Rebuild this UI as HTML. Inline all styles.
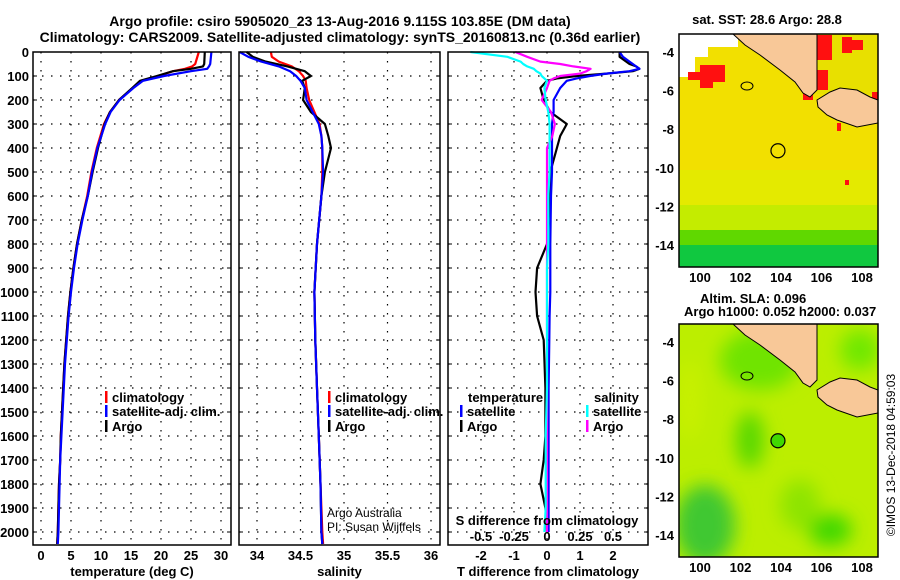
<!DOCTYPE html>
<html><head><meta charset="utf-8">
<style>
body{margin:0;background:#fff;}
svg{display:block;font-family:"Liberation Sans",sans-serif;}
.b{font-weight:bold;font-size:13px;}
.t{font-weight:bold;font-size:14px;}
</style></head>
<body>
<svg id="c" width="900" height="580" viewBox="0 0 900 580">
<defs>
<clipPath id="m1"><rect x="679" y="34" width="199" height="233"/></clipPath>
<filter id="bl"><feGaussianBlur stdDeviation="9"/></filter>
</defs>
<text class="t" x="340" y="26" text-anchor="middle">Argo profile: csiro 5905020_23 13-Aug-2016 9.115S 103.85E (DM data)</text>
<text class="t" x="340" y="42" text-anchor="middle">Climatology: CARS2009. Satellite-adjusted climatology: synTS_20160813.nc (0.36d earlier)</text>
<g id="plots"></g>
<g id="maps"></g>
<text x="895" y="455" font-size="12" text-anchor="middle" transform="rotate(-90 895 455)">©IMOS 13-Dec-2018 04:59:03</text>
</svg>
<script>
// ----- data -----
const depthT=[0,50,60,70,80,100,120,150,200,250,300,400,500,600,700,800,900,1000,1100,1200,1300,1400,1500,1600,1700,1800,1900,2000,2050];
const tempArgo=[27.3,27.2,27.0,25,22,19.3,16.5,15.2,13.0,11.5,10.6,9.5,8.6,7.8,6.8,6.0,5.4,4.9,4.5,4.2,3.9,3.7,3.5,3.3,3.2,3.0,2.9,2.8,2.7];
const tempClim=[26.3,25.7,25.2,24,22,19.5,16.8,15.3,13.0,11.5,10.5,9.3,8.4,7.7,6.8,6.0,5.4,4.9,4.5,4.2,3.9,3.7,3.5,3.3,3.2,3.0,2.9,2.8,2.7];
const tempSat=[28.4,28.2,28.0,27.7,25,20.5,17,15.4,13.1,11.6,10.7,9.4,8.5,7.8,6.9,6.1,5.5,5.0,4.6,4.3,4.0,3.8,3.6,3.4,3.2,3.1,3.0,2.9,2.8];
const depthS=[0,20,40,60,80,100,120,150,200,250,300,350,400,500,600,800,1000,1200,1400,1600,1800,2000,2050];
const salArgo=[33.88,33.95,34.1,34.35,34.55,34.62,34.52,34.55,34.53,34.62,34.78,34.82,34.85,34.78,34.74,34.69,34.66,34.67,34.69,34.71,34.73,34.74,34.75];
const salClim=[34.16,34.17,34.25,34.4,34.48,34.53,34.56,34.57,34.6,34.66,34.72,34.74,34.75,34.75,34.74,34.69,34.66,34.67,34.69,34.71,34.73,34.75,34.76];
const salSat=[33.8,33.9,34.05,34.25,34.38,34.45,34.5,34.55,34.57,34.64,34.71,34.74,34.75,34.76,34.74,34.69,34.66,34.67,34.69,34.71,34.73,34.74,34.75];
const depthD=[0,20,40,50,60,70,80,90,100,110,120,150,200,250,300,350,400,500,600,800,900,1000,1100,1200,1400,1600,1700,1800,1900,2000];
const dTArgo=[2.2,2.2,2.4,2.5,2.7,2.8,2.6,1.8,0.9,0.3,0.0,-0.2,-0.1,0.1,0.6,0.4,0.3,0.1,0.1,0.0,-0.3,-0.35,-0.3,-0.1,-0.05,-0.05,-0.1,-0.2,-0.05,0.0];
const dTSat=[2.2,2.3,2.5,2.6,2.7,2.8,2.5,1.8,1.3,0.9,0.6,0.4,0.2,0.2,0.15,0.15,0.15,0.15,0.12,0.1,0.1,0.1,0.08,0.07,0.05,0.05,0.05,0.05,0.05,0.05];
const dSArgo=[-0.24,-0.15,-0.05,0.1,0.2,0.33,0.3,0.25,0.1,0.05,0.02,0.0,-0.04,0.03,0.06,0.04,0.0,0.0,0.0,0.0,0.0,0.0,0.0,0.0,0.0,0.0,0.0,0.0,0.0,0.0];
const dSSat=[-0.58,-0.3,-0.2,-0.18,-0.15,-0.1,-0.08,-0.05,-0.04,-0.02,0.0,-0.02,-0.01,0.01,0.02,0.02,0.02,0.02,0.01,0.01,0.0,0.0,0.0,0.0,0.0,-0.01,-0.01,-0.01,-0.01,-0.02];
const depthTicks=[0,100,200,300,400,500,600,700,800,900,1000,1100,1200,1300,1400,1500,1600,1700,1800,1900,2000];
const tempTicks=[0,5,10,15,20,25,30];
const salTicks=[34,34.5,35,35.5,36];
const dTTicks=[-2,-1,0,1,2];
const dSTicks=[-0.5,-0.25,0,0.25,0.5];
const dSTickLabels=["-0.5","-0.25","0","0.25","0.5"];
const lonTicks=[100,102,104,106,108];
const latTicks=[-4,-6,-8,-10,-12,-14];

const NS="http://www.w3.org/2000/svg";
function mk(tag,attrs,parent,txt){const e=document.createElementNS(NS,tag);for(const k in attrs)e.setAttribute(k,attrs[k]);if(txt!==undefined)e.textContent=txt;parent.appendChild(e);return e;}
const yD=d=>52+d*0.24;
const TOP=52,BOT=545;
const P=document.getElementById('plots');
const panels=[
 {x0:33,x1:231,f:v=>41+v*6,ticks:tempTicks,name:'temperature-panel',label:'temperature (deg C)'},
 {x0:239,x1:440,f:v=>257+(v-34)*87,ticks:salTicks,name:'salinity-panel',label:'salinity'},
 {x0:448,x1:648,f:v=>547+v*33,ticks:dTTicks,name:'difference-panel',label:'T difference from climatology'}
];
const fS=v=>547+v*132;
panels.forEach((p,i)=>{
 const g=mk('g',{},P);
 
 
 depthTicks.forEach(d=>{if(d>0)mk('line',{x1:p.x0,x2:p.x1,y1:yD(d),y2:yD(d),stroke:'#000','stroke-dasharray':'1.5 7.5','stroke-width':1.2},g);
   mk('line',{x1:p.x0,x2:p.x0+4,y1:yD(d),y2:yD(d),stroke:'#000'},g);mk('line',{x1:p.x1-4,x2:p.x1,y1:yD(d),y2:yD(d),stroke:'#000'},g);});
 p.ticks.forEach(v=>{const x=p.f(v);mk('line',{x1:x,x2:x,y1:TOP,y2:BOT,stroke:'#000','stroke-dasharray':'1.5 7.5','stroke-width':1.2},g);
   const t=mk('text',{x:x,y:560,'text-anchor':'middle',class:'b'},g,String(v));
   
   });
 const xl=mk('text',{x:(p.x0+p.x1)/2,y:576,'text-anchor':'middle',class:'b'},g,p.label);
 
 
});
depthTicks.forEach(d=>{const t=mk('text',{x:29,y:yD(d)+5,'text-anchor':'end',class:'b'},P,String(d));
 
 });
function line(xs,ds,f,col,name,w){const pts=xs.map((v,i)=>f(v).toFixed(1)+','+yD(ds[i]).toFixed(1)).join(' ');
 const l=mk('polyline',{points:pts,fill:'none',stroke:col,'stroke-width':w||2.2,'stroke-linejoin':'round'},P);
 
 }
line(tempClim,depthT,panels[0].f,'#ff0000','temp-climatology-line');
line(tempArgo,depthT,panels[0].f,'#000','temp-argo-line');
line(tempSat,depthT,panels[0].f,'#0000ff','temp-satellite-line');
line(salClim,depthS,panels[1].f,'#ff0000','sal-climatology-line');
line(salArgo,depthS,panels[1].f,'#000','sal-argo-line');
line(salSat,depthS,panels[1].f,'#0000ff','sal-satellite-line');
line(dTArgo,depthD,panels[2].f,'#000','dT-argo-line');
line(dTSat,depthD,panels[2].f,'#0000ff','dT-satellite-line');
line(dSArgo,depthD,fS,'#ff00ff','dS-argo-line');
line(dSSat,depthD,fS,'#00ffff','dS-satellite-line');
dSTicks.forEach((v,i)=>{const t=mk('text',{x:fS(v),y:541,'text-anchor':'middle',class:'b'},P,dSTickLabels[i]);
 
 });
panels.forEach(p=>{const r=mk('rect',{x:p.x0,y:TOP,width:p.x1-p.x0,height:BOT-TOP,fill:'none',stroke:'#000','stroke-width':1.5},P);
 
 });
function leg(x,y,col,txt,anchor){const g=mk('g',{},P);
 
 
 mk('rect',{x:x,y:y-11,width:2.5,height:12,fill:col},g);
 mk('text',{x:x+7,y:y,class:'b'},g,txt);}
leg(105,402,'#ff0000','climatology');leg(105,416,'#0000ff','satellite-adj. clim.');leg(105,431,'#000','Argo');
leg(328,402,'#ff0000','climatology');leg(328,416,'#0000ff','satellite-adj. clim.');leg(328,431,'#000','Argo');
mk('text',{x:468,y:402,class:'b'},P,'temperature');
leg(460,416,'#0000ff','satellite');leg(460,431,'#000','Argo');
mk('text',{x:594,y:402,class:'b'},P,'salinity');
leg(586,416,'#00ffff','satellite');leg(586,431,'#ff00ff','Argo');
mk('text',{x:547,y:525,'text-anchor':'middle',class:'b'},P,'S difference from climatology');
mk('text',{x:327,y:517,'font-size':'12',fill:'#000'},P,'Argo Australia');
mk('text',{x:327,y:531,'font-size':'12',fill:'#000'},P,'PI: Susan Wijffels');

// ----- maps -----
const M=document.getElementById('maps');
const lx=l=>700+(l-100)*20.25, ly=l=>52+(-4-l)*19.3;
const sum="679,34 817,34 817,90 810,97 803,93 795,82 780,70 760,55 745,45 733,34";
const java="817,100 830,92 840,88 857,90 870,97 878,100 878,123 857,127 837,120 827,115 818,107";
function map(off,kind){
 const g=mk('g',{transform:'translate(0,'+off+')'},M);
 
 
 const c=mk('g',{'clip-path':'url(#m1)'},g);
 if(kind==='sst'){
  mk('rect',{x:679,y:34,width:199,height:233,fill:'#f2e000'},c);
  mk('rect',{x:679,y:34,width:16,height:43,fill:'#fff'},c);
  mk('rect',{x:695,y:34,width:13,height:23,fill:'#fff'},c);
  mk('rect',{x:708,y:34,width:30,height:13,fill:'#fff'},c);
  mk('rect',{x:679,y:170,width:199,height:40,fill:'#e4ea00'},c);
  mk('rect',{x:679,y:205,width:199,height:30,fill:'#c4ec00'},c);
  mk('rect',{x:679,y:230,width:199,height:20,fill:'#60d800'},c);
  mk('rect',{x:679,y:245,width:199,height:22,fill:'#10c840'},c);
  mk('rect',{x:817,y:34,width:61,height:60,fill:'#e8e000'},c);
  [[688,700,72,80],[700,713,65,88],[713,725,65,82],[817,832,35,60],[817,828,70,90],[842,852,37,53],[852,863,40,50],[803,813,85,100],[872,878,92,103],[837,841,123,131],[845,849,180,185]].forEach(r=>mk('rect',{x:r[0],y:r[2],width:r[1]-r[0],height:r[3]-r[2],fill:'#ff1010'},c));
 } else {
  mk('rect',{x:679,y:34,width:199,height:233,fill:'#bcee00'},c);
  const gb=mk('g',{filter:'url(#bl)'},c);
  [[705,235,30,40,'#40c830'],[750,150,14,28,'#58d800'],[830,240,22,16,'#40d800'],[760,70,40,30,'#70e400'],[860,60,20,20,'#70e800'],[800,215,20,25,'#8ee400'],[690,110,12,40,'#c8f000']].forEach(e=>mk('ellipse',{cx:e[0],cy:e[1],rx:e[2],ry:e[3],fill:e[4]},gb));
 }
 mk('polygon',{points:sum,fill:'#f8c898',stroke:'#000','stroke-width':1},c);
 mk('polygon',{points:java,fill:'#f8c898',stroke:'#000','stroke-width':1},c);
 mk('ellipse',{cx:747,cy:86,rx:6,ry:4,fill:'none',stroke:'#000'},c);
 mk('circle',{cx:lx(103.85),cy:ly(-9.115),r:7,fill:kind==='sst'?'none':'#40d800',stroke:'#000','stroke-width':1.2},g);
 mk('rect',{x:679,y:34,width:199,height:233,fill:'none',stroke:'#000','stroke-width':1.5},g);
 lonTicks.forEach(l=>{const t=mk('text',{x:lx(l),y:282,'text-anchor':'middle',class:'b'},g,String(l));
  
  });
 latTicks.forEach(l=>{const t=mk('text',{x:674,y:ly(l)+5,'text-anchor':'end',class:'b'},g,String(l));
  
  });
}
map(0,'sst');map(290,'sla');
mk('text',{x:767,y:24,'text-anchor':'middle',class:'b'},M,'sat. SST: 28.6 Argo: 28.8');
mk('text',{x:700,y:303,class:'b'},M,'Altim. SLA: 0.096');
mk('text',{x:684,y:316,class:'b'},M,'Argo h1000: 0.052 h2000: 0.037');
</script>
</body></html>
